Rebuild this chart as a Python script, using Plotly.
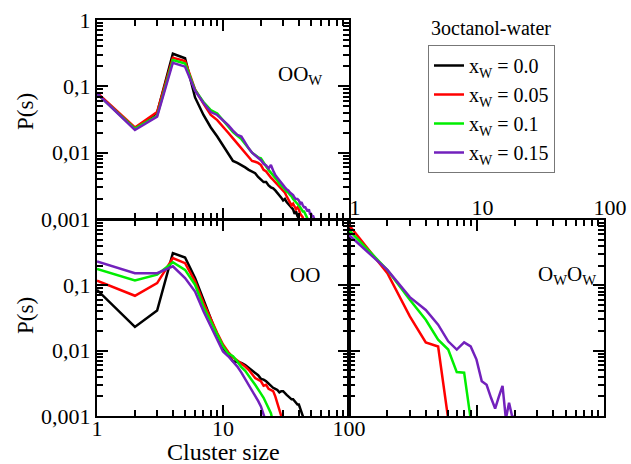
import plotly.graph_objects as go

# ---------------- data ----------------
series_names = ["x<sub>W</sub> = 0.0", "x<sub>W</sub> = 0.05", "x<sub>W</sub> = 0.1", "x<sub>W</sub> = 0.15"]
series_colors = ["#000000", "#ff0000", "#00ee00", "#7221bc"]

# OO_W panel (top-left)
oow_black_s = list(range(1, 42))
oow_black_p = [0.079, 0.023, 0.040, 0.31, 0.265, 0.068, 0.037, 0.024, 0.0175, 0.013,
               0.0095, 0.0075, 0.0070, 0.0065, 0.0060, 0.0055, 0.0052, 0.0049, 0.0043, 0.0039,
               0.0036, 0.0036, 0.0032, 0.0030, 0.0029, 0.0027, 0.0025, 0.0023, 0.0021, 0.0019,
               0.0020, 0.0018, 0.0017, 0.0016, 0.0015, 0.0014, 0.0012, 0.0013, 0.0011, 0.00102,
               0.0008]
oow_red_s = list(range(1, 45))
oow_red_p = [0.080, 0.024, 0.041, 0.27, 0.24, 0.090, 0.055, 0.037, 0.031, 0.025,
             0.020, 0.0164, 0.0138, 0.0116, 0.0100, 0.0087, 0.0075, 0.0073, 0.0070, 0.0065,
             0.0055, 0.0052, 0.0046, 0.0042, 0.0039, 0.0036, 0.0033, 0.0030, 0.0028, 0.0026,
             0.0025, 0.0022, 0.0020, 0.0018, 0.0016, 0.0017, 0.0015, 0.0014, 0.0015, 0.0014,
             0.0012, 0.0011, 0.00105, 0.0008]
oow_green_s = list(range(1, 49))
oow_green_p = [0.077, 0.023, 0.036, 0.25, 0.22, 0.088, 0.058, 0.044, 0.039, 0.031,
               0.025, 0.0205, 0.018, 0.0160, 0.0135, 0.0116, 0.0100, 0.0092, 0.0085, 0.0082,
               0.0070, 0.0062, 0.0055, 0.0050, 0.0046, 0.0042, 0.0038, 0.0034, 0.0032, 0.0030,
               0.0028, 0.0026, 0.0025, 0.0023, 0.0022, 0.0020, 0.0019, 0.0018, 0.0017, 0.0016,
               0.0015, 0.0014, 0.0013, 0.0013, 0.0012, 0.0011, 0.0010, 0.0008]
oow_purple_s = list(range(1, 55))
oow_purple_p = [0.078, 0.022, 0.035, 0.227, 0.198, 0.086, 0.056, 0.041, 0.037, 0.031,
                0.026, 0.0215, 0.0185, 0.0175, 0.0140, 0.0116, 0.0100, 0.0092, 0.0085, 0.0077,
                0.0068, 0.0064, 0.0058, 0.0065, 0.0054, 0.0046, 0.0042, 0.0038, 0.0035, 0.0032,
                0.0030, 0.0028, 0.0027, 0.0025, 0.0024, 0.0023, 0.0021, 0.0020, 0.0020, 0.0019,
                0.0017, 0.0018, 0.0016, 0.0015, 0.0015, 0.0014, 0.0013, 0.0014, 0.0012, 0.0012,
                0.0011, 0.0011, 0.0010, 0.0008]

# OO panel (bottom-left)
oo_black_s = list(range(1, 45))
oo_black_p = [0.085, 0.023, 0.041, 0.31, 0.266, 0.129, 0.060, 0.0297, 0.017, 0.011,
              0.0085, 0.0069, 0.0067, 0.0065, 0.0060, 0.0054, 0.0050, 0.0046, 0.0042, 0.0037,
              0.0036, 0.0034, 0.0031, 0.0029, 0.0027, 0.0026, 0.0025, 0.0023, 0.0024, 0.0024,
              0.0022, 0.0021, 0.0020, 0.0019, 0.0018, 0.0018, 0.0017, 0.0016, 0.0015, 0.0015,
              0.0013, 0.0012, 0.0010, 0.0008]
oo_red_s = list(range(1, 31))
oo_red_p = [0.118, 0.069, 0.108, 0.26, 0.218, 0.115, 0.054, 0.030, 0.0186, 0.0124,
            0.0095, 0.0079, 0.0071, 0.0063, 0.0057, 0.0051, 0.0043, 0.0038, 0.0036, 0.0034,
            0.0029, 0.0030, 0.0026, 0.0025, 0.0024, 0.0020, 0.0016, 0.0013, 0.0010, 0.0007]
oo_green_s = list(range(1, 26))
oo_green_p = [0.177, 0.118, 0.145, 0.225, 0.172, 0.102, 0.047, 0.028, 0.018, 0.0117,
              0.0090, 0.0082, 0.0068, 0.0056, 0.0049, 0.0042, 0.0035, 0.0030, 0.0026, 0.0022,
              0.0019, 0.0016, 0.0013, 0.0011, 0.0008]
oo_purple_s = list(range(1, 23))
oo_purple_p = [0.231, 0.153, 0.153, 0.195, 0.129, 0.080, 0.040, 0.0235, 0.0148, 0.0097,
               0.0082, 0.0069, 0.0057, 0.0046, 0.0037, 0.0030, 0.0025, 0.0020, 0.0017, 0.0014,
               0.0011, 0.0008]

# O_W O_W panel (bottom-right)
owow_red_s = [1, 2, 3, 4, 5, 6]
owow_red_p = [0.84, 0.153, 0.0334, 0.0134, 0.0116, 0.0009]
owow_green_s = [1, 2, 3, 4, 5, 6, 7, 8, 9]
owow_green_p = [0.70, 0.172, 0.060, 0.0297, 0.0147, 0.0104, 0.0047, 0.0046, 0.0009]
owow_purple_s = list(range(1, 21))
owow_purple_p = [0.59, 0.172, 0.066, 0.042, 0.025, 0.0139, 0.0104, 0.0134, 0.0116, 0.0073,
                 0.0034, 0.0030, 0.0019, 0.0013, 0.0020, 0.0029, 0.0009, 0.0016, 0.0010, 0.00095]

# ---------------- figure ----------------
W, H = 631, 464
def fx(p): return p / W
def fy(p): return 1 - p / H

FONT = "Liberation Serif"
fig = go.Figure()

panels = [
    ("x", "y", [(oow_black_s, oow_black_p), (oow_red_s, oow_red_p),
                (oow_green_s, oow_green_p), (oow_purple_s, oow_purple_p)], True),
    ("x2", "y2", [(oo_black_s, oo_black_p), (oo_red_s, oo_red_p),
                  (oo_green_s, oo_green_p), (oo_purple_s, oo_purple_p)], False),
    ("x3", "y3", [None, (owow_red_s, owow_red_p),
                  (owow_green_s, owow_green_p), (owow_purple_s, owow_purple_p)], False),
]
for xa, ya, data, show in panels:
    for i, d in enumerate(data):
        if d is None:
            continue
        fig.add_trace(go.Scatter(x=d[0], y=d[1], mode="lines", xaxis=xa, yaxis=ya,
                                 name=series_names[i], showlegend=show,
                                 line=dict(color=series_colors[i], width=2.5)))

common = dict(type="log", showline=True, linecolor="black", linewidth=2,
              mirror="allticks", ticks="inside", ticklen=11, tickwidth=2,
              tickcolor="black", showgrid=False, zeroline=False,
              tickmode="linear", tick0=0, dtick=1,
              tickfont=dict(family=FONT, size=22, color="black"),
              minor=dict(ticks="inside", ticklen=6, tickwidth=1.5, tickcolor="black",
                         dtick="D1", showgrid=False))

xl = [fx(97), fx(349)]
xr = [fx(349), fx(604)]
yt = [fy(219), fy(20)]
yb = [fy(416), fy(220)]

fig.update_layout(
    width=W, height=H, margin=dict(l=0, r=0, t=0, b=0, pad=0, autoexpand=False),
    paper_bgcolor="white", plot_bgcolor="white", separators=", ",
    xaxis=dict(common, domain=xl, anchor="y", range=[0, 2], showticklabels=False),
    yaxis=dict(common, domain=yt, anchor="x", range=[-3, 0]),
    xaxis2=dict(common, domain=xl, anchor="y2", range=[0, 2], ticklabelstandoff=-8),
    yaxis2=dict(common, domain=yb, anchor="x2", range=[-3, -0.002]),
    xaxis3=dict(common, domain=xr, anchor="y3", range=[0, 2], side="top",
                ticklabelstandoff=-6, ticklabelshift=6),
    yaxis3=dict(common, domain=yb, anchor="x3", range=[-3, 0], showticklabels=False),
    legend=dict(x=fx(428), y=fy(45), xanchor="left", yanchor="top",
                bordercolor="#777777", borderwidth=1, bgcolor="white",
                font=dict(family=FONT, size=20, color="black"),
                tracegroupgap=0),
    showlegend=True,
)

ann = [
    dict(text="P(s)", x=fx(25), y=fy(112), textangle=-90, size=23),
    dict(text="P(s)", x=fx(25), y=fy(316), textangle=-90, size=23),
    dict(text="Cluster size", x=fx(223), y=fy(452), textangle=0, size=24),
    dict(text="3octanol-water", x=fx(491), y=fy(28), textangle=0, size=20),
    dict(text="OO<sub>W</sub>", x=fx(300), y=fy(75), textangle=0, size=21),
    dict(text="OO", x=fx(305), y=fy(275), textangle=0, size=21),
    dict(text="O<sub>W</sub>O<sub>W</sub>", x=fx(567), y=fy(275), textangle=0, size=21),
]
for a in ann:
    fig.add_annotation(text=a["text"], x=a["x"], y=a["y"], xref="paper", yref="paper",
                       xanchor="center", yanchor="middle", showarrow=False,
                       textangle=a["textangle"],
                       font=dict(family=FONT, size=a["size"], color="black"))

fig.write_html("out.html")
